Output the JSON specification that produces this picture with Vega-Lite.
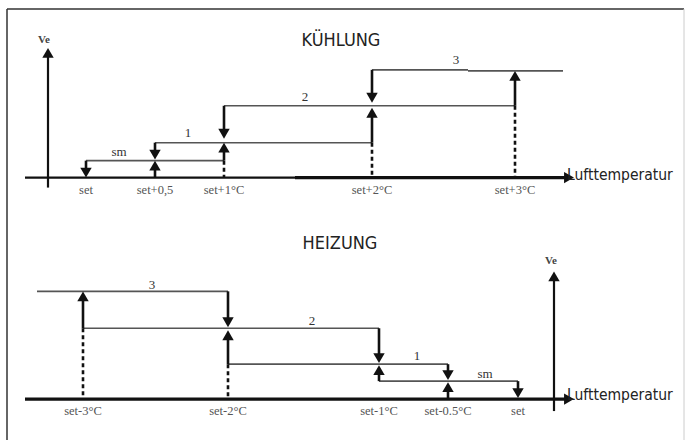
{
  "$schema": "https://vega.github.io/schema/vega-lite/v6.json",
  "width": 686,
  "height": 441,
  "autosize": {"type": "fit", "contains": "padding"},
  "padding": 0,
  "background": "white",
  "config": {"view": {"stroke": null}},
  "datasets": {
    "segs": [
      {"x": 7, "x2": 684, "y": 9, "y2": 9, "style": "border"},
      {"x": 7, "x2": 7, "y": 9, "y2": 441, "style": "border"},
      {"x": 684, "x2": 684, "y": 9, "y2": 441, "style": "borderlight"},

      {"x": 48, "x2": 48, "y": 52, "y2": 188, "style": "axis"},
      {"x": 25, "x2": 566, "y": 178, "y2": 178, "style": "axis"},
      {"x": 295, "x2": 566, "y": 178, "y2": 178, "style": "axisbold"},
      {"x": 86, "x2": 224, "y": 161, "y2": 161, "style": "level"},
      {"x": 155, "x2": 372, "y": 143, "y2": 143, "style": "level"},
      {"x": 224, "x2": 515, "y": 106, "y2": 106, "style": "level"},
      {"x": 372, "x2": 468, "y": 70, "y2": 70, "style": "level"},
      {"x": 468, "x2": 563, "y": 71, "y2": 71, "style": "level"},
      {"x": 86, "x2": 86, "y": 161, "y2": 170, "style": "shaft"},
      {"x": 155, "x2": 155, "y": 143, "y2": 152, "style": "shaft"},
      {"x": 155, "x2": 155, "y": 169, "y2": 178, "style": "shaft"},
      {"x": 224, "x2": 224, "y": 106, "y2": 131, "style": "shaft"},
      {"x": 224, "x2": 224, "y": 151, "y2": 161, "style": "shaft"},
      {"x": 224, "x2": 224, "y": 161, "y2": 178, "style": "dash"},
      {"x": 372, "x2": 372, "y": 70, "y2": 95, "style": "shaft"},
      {"x": 372, "x2": 372, "y": 116, "y2": 143, "style": "shaft"},
      {"x": 372, "x2": 372, "y": 143, "y2": 178, "style": "dash"},
      {"x": 515, "x2": 515, "y": 79, "y2": 106, "style": "shaft"},
      {"x": 515, "x2": 515, "y": 106, "y2": 178, "style": "dash"},

      {"x": 554, "x2": 554, "y": 276, "y2": 412, "style": "axis"},
      {"x": 25, "x2": 566, "y": 400, "y2": 400, "style": "axisbold"},
      {"x": 37, "x2": 228, "y": 292, "y2": 292, "style": "level"},
      {"x": 83, "x2": 379, "y": 329, "y2": 329, "style": "level"},
      {"x": 228, "x2": 448, "y": 365, "y2": 365, "style": "level"},
      {"x": 379, "x2": 518, "y": 382, "y2": 382, "style": "level"},
      {"x": 83, "x2": 83, "y": 300, "y2": 329, "style": "shaft"},
      {"x": 83, "x2": 83, "y": 329, "y2": 400, "style": "dash"},
      {"x": 228, "x2": 228, "y": 292, "y2": 320, "style": "shaft"},
      {"x": 228, "x2": 228, "y": 339, "y2": 365, "style": "shaft"},
      {"x": 228, "x2": 228, "y": 365, "y2": 400, "style": "dash"},
      {"x": 379, "x2": 379, "y": 329, "y2": 356, "style": "shaft"},
      {"x": 379, "x2": 379, "y": 374, "y2": 382, "style": "shaft"},
      {"x": 448, "x2": 448, "y": 365, "y2": 373, "style": "shaft"},
      {"x": 448, "x2": 448, "y": 391, "y2": 400, "style": "shaft"},
      {"x": 518, "x2": 518, "y": 382, "y2": 391, "style": "shaft"}
    ],
    "heads": [
      {"x": 48, "y": 53, "dir": "up"},
      {"x": 569, "y": 178, "dir": "right"},
      {"x": 86, "y": 173, "dir": "down"},
      {"x": 155, "y": 155, "dir": "down"},
      {"x": 155, "y": 166, "dir": "up"},
      {"x": 224, "y": 134, "dir": "down"},
      {"x": 224, "y": 148, "dir": "up"},
      {"x": 372, "y": 98, "dir": "down"},
      {"x": 372, "y": 113, "dir": "up"},
      {"x": 515, "y": 76, "dir": "up"},

      {"x": 554, "y": 277, "dir": "up"},
      {"x": 569, "y": 400, "dir": "right"},
      {"x": 83, "y": 297, "dir": "up"},
      {"x": 228, "y": 323, "dir": "down"},
      {"x": 228, "y": 336, "dir": "up"},
      {"x": 379, "y": 359, "dir": "down"},
      {"x": 379, "y": 371, "dir": "up"},
      {"x": 448, "y": 376, "dir": "down"},
      {"x": 448, "y": 388, "dir": "up"},
      {"x": 518, "y": 394, "dir": "down"}
    ],
    "labels": [
      {"x": 341, "y": 41, "text": "KÜHLUNG", "kind": "title"},
      {"x": 340, "y": 245, "text": "HEIZUNG", "kind": "title"},
      {"x": 567, "y": 175, "text": "Lufttemperatur", "kind": "axistitle"},
      {"x": 567, "y": 396, "text": "Lufttemperatur", "kind": "axistitle"},
      {"x": 44, "y": 40, "text": "Ve", "kind": "ve"},
      {"x": 551, "y": 262, "text": "Ve", "kind": "ve"},
      {"x": 86, "y": 190, "text": "set", "kind": "tick"},
      {"x": 155, "y": 190, "text": "set+0,5", "kind": "tick"},
      {"x": 224, "y": 190, "text": "set+1°C", "kind": "tick"},
      {"x": 372, "y": 190, "text": "set+2°C", "kind": "tick"},
      {"x": 515, "y": 190, "text": "set+3°C", "kind": "tick"},
      {"x": 83, "y": 412, "text": "set-3°C", "kind": "tick"},
      {"x": 228, "y": 412, "text": "set-2°C", "kind": "tick"},
      {"x": 379, "y": 412, "text": "set-1°C", "kind": "tick"},
      {"x": 448, "y": 412, "text": "set-0.5°C", "kind": "tick"},
      {"x": 518, "y": 412, "text": "set", "kind": "tick"},
      {"x": 119, "y": 152, "text": "sm", "kind": "step"},
      {"x": 188, "y": 133, "text": "1", "kind": "step"},
      {"x": 305, "y": 97, "text": "2", "kind": "step"},
      {"x": 456, "y": 60, "text": "3", "kind": "step"},
      {"x": 152, "y": 286, "text": "3", "kind": "step"},
      {"x": 312, "y": 322, "text": "2", "kind": "step"},
      {"x": 417, "y": 357, "text": "1", "kind": "step"},
      {"x": 485, "y": 375, "text": "sm", "kind": "step"}
    ]
  },
  "encoding": {
    "x": {"field": "x", "type": "quantitative", "scale": {"domain": [0, 686], "nice": false, "zero": false}, "axis": null},
    "y": {"field": "y", "type": "quantitative", "scale": {"domain": [0, 441], "nice": false, "zero": false, "reverse": true}, "axis": null}
  },
  "layer": [
    {"data": {"name": "segs"}, "transform": [{"filter": "datum.style == 'border'"}],
     "mark": {"type": "rule", "color": "#333333", "strokeWidth": 1.5},
     "encoding": {"x2": {"field": "x2"}, "y2": {"field": "y2"}}},
    {"data": {"name": "segs"}, "transform": [{"filter": "datum.style == 'borderlight'"}],
     "mark": {"type": "rule", "color": "#cccccc", "strokeWidth": 1},
     "encoding": {"x2": {"field": "x2"}, "y2": {"field": "y2"}}},
    {"data": {"name": "segs"}, "transform": [{"filter": "datum.style == 'level'"}],
     "mark": {"type": "rule", "color": "#555555", "strokeWidth": 1.6},
     "encoding": {"x2": {"field": "x2"}, "y2": {"field": "y2"}}},
    {"data": {"name": "segs"}, "transform": [{"filter": "datum.style == 'shaft'"}],
     "mark": {"type": "rule", "color": "#111111", "strokeWidth": 2.6},
     "encoding": {"x2": {"field": "x2"}, "y2": {"field": "y2"}}},
    {"data": {"name": "segs"}, "transform": [{"filter": "datum.style == 'dash'"}],
     "mark": {"type": "rule", "color": "#111111", "strokeWidth": 2.6, "strokeDash": [4, 3]},
     "encoding": {"x2": {"field": "x2"}, "y2": {"field": "y2"}}},
    {"data": {"name": "segs"}, "transform": [{"filter": "datum.style == 'axis'"}],
     "mark": {"type": "rule", "color": "#111111", "strokeWidth": 2.2},
     "encoding": {"x2": {"field": "x2"}, "y2": {"field": "y2"}}},
    {"data": {"name": "segs"}, "transform": [{"filter": "datum.style == 'axisbold'"}],
     "mark": {"type": "rule", "color": "#111111", "strokeWidth": 3.2},
     "encoding": {"x2": {"field": "x2"}, "y2": {"field": "y2"}}},
    {"data": {"name": "heads"},
     "mark": {"type": "point", "filled": true, "color": "#111111", "opacity": 1, "size": 130},
     "encoding": {"shape": {"field": "dir", "type": "nominal", "scale": {"domain": ["up", "down", "right"], "range": ["triangle-up", "triangle-down", "triangle-right"]}, "legend": null}}},
    {"data": {"name": "labels"}, "transform": [{"filter": "datum.kind == 'title'"}],
     "mark": {"type": "text", "font": "DejaVu Sans Condensed", "fontSize": 18, "color": "#222222", "align": "center", "baseline": "middle"},
     "encoding": {"text": {"field": "text"}}},
    {"data": {"name": "labels"}, "transform": [{"filter": "datum.kind == 'axistitle'"}],
     "mark": {"type": "text", "font": "DejaVu Sans Condensed", "fontSize": 15.5, "color": "#222222", "align": "left", "baseline": "middle"},
     "encoding": {"text": {"field": "text"}}},
    {"data": {"name": "labels"}, "transform": [{"filter": "datum.kind == 've'"}],
     "mark": {"type": "text", "font": "Liberation Serif", "fontSize": 11, "fontWeight": "bold", "color": "#444444", "align": "center", "baseline": "middle"},
     "encoding": {"text": {"field": "text"}}},
    {"data": {"name": "labels"}, "transform": [{"filter": "datum.kind == 'tick'"}],
     "mark": {"type": "text", "font": "Liberation Serif", "fontSize": 12.5, "color": "#555555", "align": "center", "baseline": "middle"},
     "encoding": {"text": {"field": "text"}}},
    {"data": {"name": "labels"}, "transform": [{"filter": "datum.kind == 'step'"}],
     "mark": {"type": "text", "font": "Liberation Serif", "fontSize": 13, "color": "#333333", "align": "center", "baseline": "middle"},
     "encoding": {"text": {"field": "text"}}}
  ]
}
